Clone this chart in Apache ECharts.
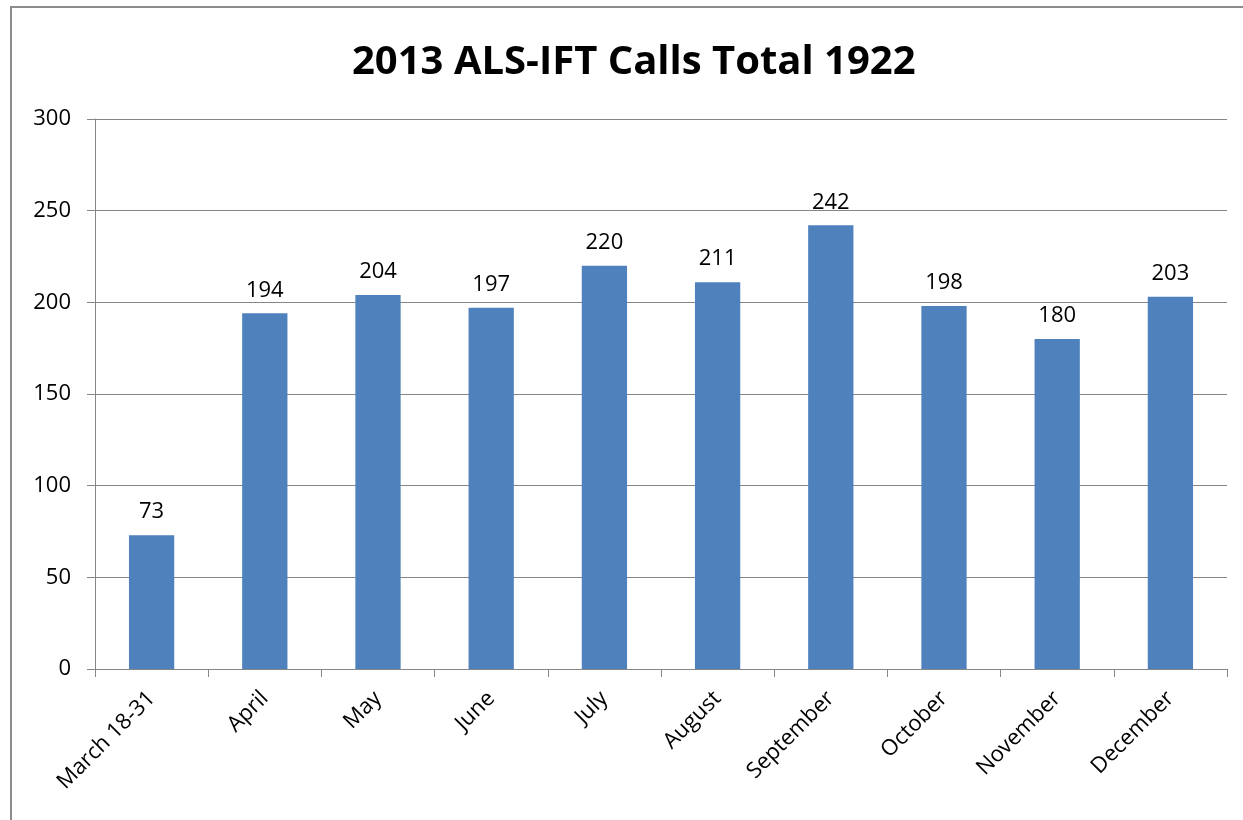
<!DOCTYPE html>
<html>
<head>
<meta charset="utf-8">
<script src="https://cdn.jsdelivr.net/npm/echarts@6/dist/echarts.min.js"></script>
<style>
html, body { margin: 0; padding: 0; background: #fff; overflow: hidden; }
#frame { position: absolute; left: 10px; top: 6px; width: 1300px; height: 900px; border: 2px solid #8c8c8c; box-sizing: border-box; }
#chart { position: absolute; left: 0; top: 0; width: 1243px; height: 820px; }
</style>
</head>
<body>
<div id="frame"></div>
<div id="chart"></div>
<script>
var categories = ['March 18-31', 'April', 'May', 'June', 'July', 'August', 'September', 'October', 'November', 'December'];
var calls = [73, 194, 204, 197, 220, 211, 242, 198, 180, 203];
var yTicks = { min: 0, max: 300, interval: 50 };

var chart = echarts.init(document.getElementById('chart'), null, { renderer: 'canvas' });
var font = '"Open Sans", "Liberation Sans", sans-serif';

var option = {
	backgroundColor: 'transparent',
	animation: false,
	title: {
		text: '2013 ALS-IFT Calls Total 1922',
		left: 347,
		top: 38,
		textStyle: { fontFamily: font, fontSize: 40, fontWeight: 'bold', color: '#000' }
	},
	grid: { left: 95, right: 16, top: 119, bottom: 151 },
	xAxis: {
		type: 'category',
		data: categories,
		axisLine: { lineStyle: { color: '#868686', width: 1 } },
		axisTick: { show: true, alignWithLabel: false, length: 8, lineStyle: { color: '#868686' } },
		axisLabel: { rotate: 45, margin: 26, interval: 0, fontFamily: font, fontSize: 22, color: '#000' }
	},
	yAxis: {
		type: 'value',
		min: yTicks.min,
		max: yTicks.max,
		interval: yTicks.interval,
		axisLine: { show: true, lineStyle: { color: '#868686', width: 1 } },
		axisTick: { show: true, length: 8, lineStyle: { color: '#868686' } },
		splitLine: { lineStyle: { color: '#868686', width: 1 } },
		axisLabel: { margin: 24, fontFamily: font, fontSize: 22, color: '#000' }
	},
	series: [{
		type: 'bar',
		data: calls,
		barWidth: '40%',
		itemStyle: { color: '#4F81BD' },
		label: { show: true, position: 'top', distance: 12, fontFamily: font, fontSize: 22, color: '#000' }
	}]
};
chart.setOption(option);
</script>
</body>
</html>
